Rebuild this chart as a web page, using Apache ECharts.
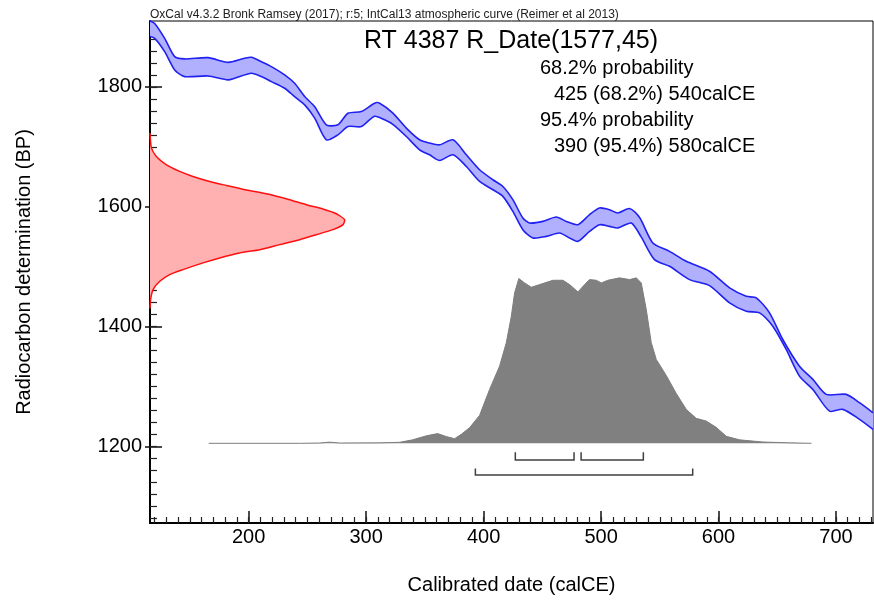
<!DOCTYPE html>
<html>
<head>
<meta charset="utf-8">
<title>RT 4387 R_Date(1577,45)</title>
<script src="https://cdn.jsdelivr.net/npm/echarts@6/dist/echarts.min.js"></script>
<style>
  html, body { margin: 0; padding: 0; background: #fff; }
  #main { width: 874px; height: 600px; }
</style>
</head>
<body>
<div id="main"></div>
<script type="text/javascript">
// IntCal13 band, upper and lower edge [calCE, BP]
var curveUpper = [[116,1910],[120,1906],[128.5,1881],[137,1850.5],[145.5,1846.7],[165.4,1848.8],[182.4,1841],
  [196.6,1847.8],[202.3,1849.5],[210.8,1842],[219.3,1833.8],[230.6,1820],[239.1,1806],[247.7,1783.8],
  [256.2,1767],[266.1,1736.7],[276,1736.7],[284.5,1756],[295.9,1758.8],[307.2,1772.8],[311.5,1772.8],
  [322.8,1756.2],[334.2,1731.2],[345.5,1711.7],[354,1706.2],[362.6,1703.3],[373.9,1711.7],[385.3,1686.7],
  [396.6,1661.7],[407.9,1645],[416.4,1633.8],[424.9,1611.7],[433.4,1581.2],[439.1,1572.8],[450.5,1575.5],
  [461.9,1582.8],[470.4,1575.5],[480.3,1570],[490.2,1586.7],[498.7,1597.8],[507.2,1595],[514.3,1589.5],
  [524.3,1597],[532.8,1582],[544.1,1539.5],[558.3,1525.5],[572.5,1508.8],[592.3,1492.2],[609.4,1464.5],
  [623.6,1450.5],[632.1,1447.8],[643.4,1422.8],[654.7,1378.3],[668.9,1333.8],[680.3,1311.7],[691.7,1286.7],
  [708.7,1286.7],[720,1272.8],[731.5,1256]];
var curveLower = [[116,1884],[120,1881],[128.5,1858.8],[137,1828.3],[145.5,1817.2],[165.4,1818.3],[182.4,1811.7],
  [188.1,1814.5],[202.3,1822.8],[210.8,1817.2],[219.3,1808.8],[230.6,1797.8],[239.1,1783.8],[247.7,1770],
  [256.2,1747.8],[266.1,1711.7],[276,1720],[284.5,1733.8],[295.9,1733.8],[307.2,1751],[315.7,1745],
  [323,1737],[334.2,1717.2],[345.5,1695],[354,1686.7],[362.6,1677.2],[373.9,1686.7],[385.3,1667.2],
  [396.6,1642.2],[407.9,1628.3],[416.4,1617.2],[424.9,1592.2],[433.4,1561.7],[441.9,1547.8],[453.4,1550.5],
  [464.7,1556.2],[473.2,1547.8],[480.3,1542.2],[490.2,1558.8],[498.7,1570],[507.2,1567.2],[514.3,1564.5],
  [525.7,1572.8],[534,1550],[545.5,1511.7],[558.3,1500.5],[575.3,1478.3],[592.3,1468.3],[609.4,1439.5],
  [623.6,1425.5],[634.9,1422.8],[646.2,1400.5],[657.6,1361.7],[668.9,1317.2],[680.3,1295],[694.5,1258.8],
  [705.8,1261.7],[720,1245],[731.5,1228.3]];

// radiocarbon measurement, drawn along the BP axis [calCE, BP]
var rDateCurve = [[116,1723],[117.2,1698],[121.4,1684],[130,1670],[141.3,1659],[152.6,1650.5],[166.8,1642],
  [181,1635.5],[198,1628],[215.1,1621.7],[234.9,1611.7],[249.1,1603.3],[263.2,1596.2],[274.6,1588.3],
  [281.7,1578.3],[280.3,1570],[271.7,1561.7],[257.6,1553.3],[243.4,1545],[226.4,1536.7],[209.4,1528.3],
  [192.3,1522.8],[175.3,1514.5],[161.1,1506.2],[144.1,1495],[132.8,1486.7],[124.3,1475.5],[118.6,1461.7],
  [116.5,1445],[116,1430]];

// calibrated distribution [calCE, BP]
var calibBase = 1205;
var calibDist = [[166,1205],[243.4,1205],[260.4,1205.5],[268.9,1207],[277.4,1205.5],[311.5,1205.8],[328.5,1206.7],
  [339.6,1210.8],[351.2,1217.5],[360.9,1221.2],[368.3,1216.2],[375.3,1212.8],[381,1220],[388.1,1231.2],
  [396.6,1251.7],[405.1,1295],[413.6,1333.8],[419.3,1372.8],[423.6,1417.2],[426.4,1456.2],[430,1480],
  [434.9,1472.8],[440.6,1465.5],[447.7,1470],[459,1477.2],[467.5,1477.2],[473.2,1470],[480.3,1457.8],
  [486,1470],[490.2,1478.3],[495.9,1477.2],[500.2,1472.8],[505.8,1477.2],[515.7,1481.2],[524.3,1478.3],
  [530,1481.2],[534.2,1472.8],[538.5,1428.3],[542.7,1373.3],[547,1345],[555.5,1318.3],[564,1288.3],
  [572.5,1261.7],[581,1246.7],[589.5,1242.2],[598,1231.7],[606.6,1216.7],[617.9,1210.8],[637.7,1207.2],
  [660.4,1205.8],[679.1,1205]];

// highest density ranges
var hpd68 = [[427,477],[483,536]];
var hpd95 = [[393,578]];

var xTickLabels = [200,300,400,500,600,700];
var yTickLabels = [1200,1400,1600,1800];

var headerText = 'OxCal v4.3.2 Bronk Ramsey (2017); r:5; IntCal13 atmospheric curve (Reimer et al 2013)';
var titleText = 'RT 4387 R_Date(1577,45)';
var statLines = ['68.2% probability', '425 (68.2%) 540calCE', '95.4% probability', '390 (95.4%) 580calCE'];

var xMinor = [];
for (var i = 120; i <= 730; i += 10) xMinor.push(i);
var yMinor = [];
for (var j = 1080; j <= 1900; j += 20) yMinor.push(j);

var FONT = "'Liberation Sans', Arial, sans-serif";
var myChart = echarts.init(document.getElementById('main'));

function pts(arr, api) {
  return arr.map(function (p) { return api.coord(p); });
}
function plain(v) { return String(v); }

var bracketRows = [];
hpd68.forEach(function (r) { bracketRows.push([r[0], r[1], 0]); });
hpd95.forEach(function (r) { bracketRows.push([r[0], r[1], 1]); });

var option = {
  animation: false,
  grid: { left: 150, top: 21, width: 723, height: 503, show: true, borderColor: '#000', borderWidth: 1 },
  xAxis: [{
    type: 'value', min: 116, max: 731.5,
    name: 'Calibrated date (calCE)', nameLocation: 'middle', nameGap: 52,
    nameTextStyle: { fontSize: 20, color: '#000', fontFamily: FONT },
    axisLine: { show: true, onZero: false, lineStyle: { color: '#000', width: 2 } },
    axisTick: { show: true, inside: true, length: 12, customValues: xTickLabels, lineStyle: { color: '#111', width: 1.5 } },
    axisLabel: { customValues: xTickLabels, formatter: plain, fontSize: 20, color: '#000', margin: 4, fontFamily: FONT },
    splitLine: { show: false }
  }, {
    type: 'value', min: 116, max: 731.5, position: 'bottom',
    axisLine: { show: false },
    axisTick: { show: true, inside: true, length: 6, customValues: xMinor, lineStyle: { color: '#222', width: 1.2 } },
    axisLabel: { show: false }, splitLine: { show: false }
  }],
  yAxis: [{
    type: 'value', min: 1072, max: 1910,
    name: 'Radiocarbon determination (BP)', nameLocation: 'middle', nameGap: 116, nameRotate: 90,
    nameTextStyle: { fontSize: 20, color: '#000', fontFamily: FONT },
    axisLine: { show: true, onZero: false, lineStyle: { color: '#000', width: 2 } },
    axisTick: { show: true, inside: true, length: 12, customValues: yTickLabels, lineStyle: { color: '#111', width: 1.5 } },
    axisLabel: { customValues: yTickLabels, formatter: plain, fontSize: 20, color: '#000', margin: 8, fontFamily: FONT },
    splitLine: { show: false }
  }, {
    type: 'value', min: 1072, max: 1910, position: 'left',
    axisLine: { show: false },
    axisTick: { show: true, inside: true, length: 7, customValues: yMinor, lineStyle: { color: '#222', width: 1.2 } },
    axisLabel: { show: false }, splitLine: { show: false }
  }, {
    type: 'value', min: 1072, max: 1910, position: 'left',
    axisLine: { show: false },
    axisTick: { show: true, inside: false, length: 5, customValues: yTickLabels, lineStyle: { color: '#111', width: 1.5 } },
    axisLabel: { show: false }, splitLine: { show: false }
  }],
  graphic: [
    { type: 'text', left: 150, top: 9, style: { text: headerText, fontSize: 12, fill: '#222', fontFamily: FONT } },
    { type: 'text', x: 511, y: 41, style: { text: titleText, fontSize: 25, fill: '#000', fontFamily: FONT, align: 'center', verticalAlign: 'middle' } },
    { type: 'text', x: 540, y: 68, style: { text: statLines[0], fontSize: 20, fill: '#000', fontFamily: FONT, verticalAlign: 'middle' } },
    { type: 'text', x: 554, y: 94, style: { text: statLines[1], fontSize: 20, fill: '#000', fontFamily: FONT, verticalAlign: 'middle' } },
    { type: 'text', x: 540, y: 120, style: { text: statLines[2], fontSize: 20, fill: '#000', fontFamily: FONT, verticalAlign: 'middle' } },
    { type: 'text', x: 554, y: 146, style: { text: statLines[3], fontSize: 20, fill: '#000', fontFamily: FONT, verticalAlign: 'middle' } }
  ],
  series: [
    {
      // calibrated date distribution
      type: 'line', data: calibDist, showSymbol: false, symbol: 'none', silent: true,
      lineStyle: { color: '#7d7d7d', width: 1 },
      areaStyle: { color: '#808080', opacity: 1, origin: calibBase },
      z: 2
    },
    {
      // calibration curve band
      type: 'custom', coordinateSystem: 'cartesian2d', data: [[400, 1500]], silent: true, z: 3,
      renderItem: function (params, api) {
        var up = pts(curveUpper, api), lo = pts(curveLower, api);
        return {
          type: 'group', children: [
            { type: 'polygon', shape: { points: up.concat(lo.slice().reverse()) }, style: { fill: '#b0b0ff' } },
            { type: 'polyline', shape: { points: up, smooth: 0.25 }, style: { stroke: '#2020f0', lineWidth: 1.6, fill: null } },
            { type: 'polyline', shape: { points: lo, smooth: 0.25 }, style: { stroke: '#2020f0', lineWidth: 1.6, fill: null } }
          ]
        };
      }
    },
    {
      // radiocarbon measurement
      type: 'custom', coordinateSystem: 'cartesian2d', data: [[200, 1580]], silent: true, z: 3,
      renderItem: function (params, api) {
        var p = pts(rDateCurve, api);
        return {
          type: 'group', children: [
            { type: 'polygon', shape: { points: p }, style: { fill: '#ffb0b0' } },
            { type: 'polyline', shape: { points: p, smooth: 0.2 }, style: { stroke: '#ff1010', lineWidth: 1.5, fill: null } }
          ]
        };
      }
    },
    {
      // hpd range brackets
      type: 'custom', coordinateSystem: 'cartesian2d', data: bracketRows, silent: true, z: 4,
      renderItem: function (params, api) {
        var lvl = api.value(2);
        var bar = lvl === 0 ? 1177 : 1152, top = lvl === 0 ? 1190 : 1163;
        var a = api.coord([api.value(0), top]), b = api.coord([api.value(0), bar]);
        var c = api.coord([api.value(1), bar]), d = api.coord([api.value(1), top]);
        return { type: 'polyline', shape: { points: [a, b, c, d] }, style: { stroke: '#404040', lineWidth: 1.5, fill: null } };
      }
    }
  ]
};

myChart.setOption(option);
</script>
</body>
</html>
